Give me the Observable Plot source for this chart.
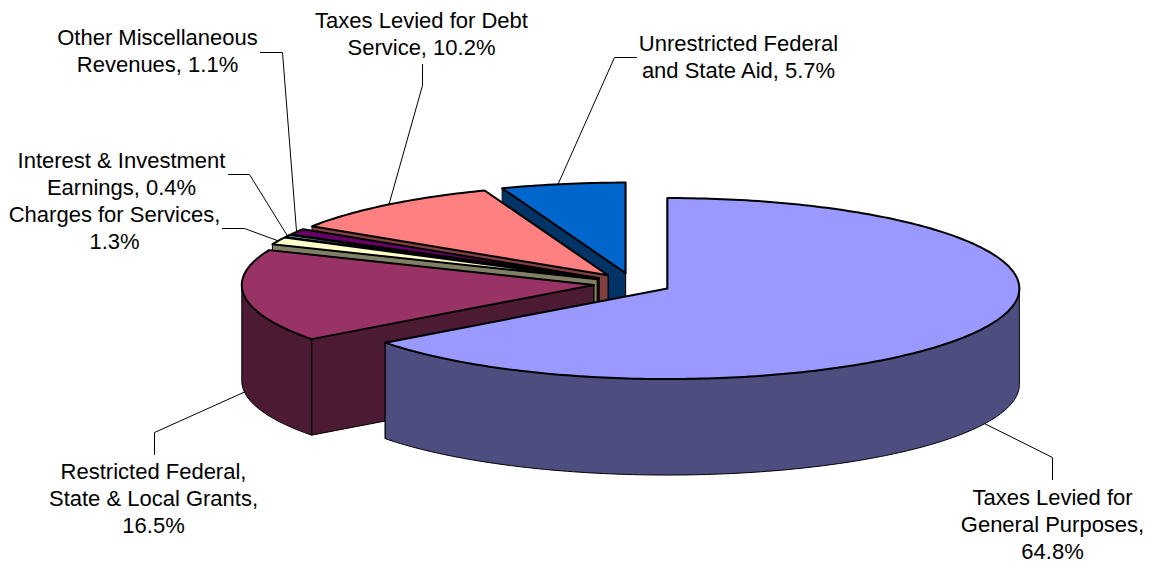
<!DOCTYPE html>
<html>
<head>
<meta charset="utf-8">
<script src="https://cdn.jsdelivr.net/npm/d3@7"></script>
<script src="https://cdn.jsdelivr.net/npm/@observablehq/plot@0.6"></script>
<style>
  html, body { margin: 0; padding: 0; background: #fff; }
  svg { display: block; }
</style>
</head>
<body>
<div id="chart"></div>
<script>
// Revenue sources, clockwise from twelve o'clock.
const categories = [
  "Taxes Levied for\nGeneral Purposes,\n64.8%",
  "Restricted Federal,\nState & Local Grants,\n16.5%",
  "Charges for Services,\n1.3%",
  "Interest & Investment\nEarnings, 0.4%",
  "Other Miscellaneous\nRevenues, 1.1%",
  "Taxes Levied for Debt\nService, 10.2%",
  "Unrestricted Federal\nand State Aid, 5.7%"
];
const shares = [64.8, 16.5, 1.3, 0.4, 1.1, 10.2, 5.7];
const topColors = ["#9999FF", "#993366", "#FFFFCC", "#CCFFFF", "#660066", "#FF8080", "#0066CC"];
const wallColors = ["#4D4D80", "#4D1A33", "#808066", "#668080", "#330033", "#804040", "#003366"];

// Label placement: text centre, then the elbow and end of each leader line.
const labelX = [1052, 153, 114, 121, 157, 421, 738];
const labelY = [522.5, 496.5, 226.3, 172.5, 49.5, 32, 55];
const elbowX = [1052, 154, 244, 249, 282, 422, 614];
const elbowY = [457, 432, 228, 174, 52, 85, 57];
const leaderEndX = [1052, 154, 222, 228, 260, 422, 636];
const leaderEndY = [479, 454, 228, 174, 52, 64, 57];
// Small angular shift of each leader's anchor along the rim, in degrees.
const anchorShift = [-1, 0, 0, 0, 0, 0.4, -0.8];

// Pie projection: an ellipse seen from above, extruded downward.
const centerX = 632, centerY = 283.2;
const radiusX = 352, radiusY = 90.5;
const depth = 96, explodeX = 39, explodeY = 10.8;
const rad = (d) => d * Math.PI / 180;

let running = 0;
const slices = shares.map((share, i) => {
  const start = running * 3.6;
  running += share;
  const end = running * 3.6;
  const mid = rad((start + end) / 2);
  const apexX = centerX + explodeX * Math.sin(mid);
  const apexY = centerY - explodeY * Math.cos(mid);
  const rim = (deg, drop = 0) => ({
    x: apexX + radiusX * Math.sin(rad(deg)),
    y: apexY - radiusY * Math.cos(rad(deg)) + drop
  });
  const arc = (a, b, drop = 0) => {
    const n = Math.max(2, Math.ceil(Math.abs(b - a)));
    return d3.range(n + 1).map((k) => rim(a + (b - a) * k / n, drop));
  };
  return {i, start, end, midDeg: (start + end) / 2, apexX, apexY, rim, arc};
});

const closed = (pts) => [...pts, pts[0]];
const face = (pts, fill, strokeWidth) =>
  Plot.line(closed(pts), {x: "x", y: "y", fill, stroke: "#000", strokeWidth, curve: "linear"});

// Paint from the back slice to the front one; walls first, the lid on top.
const pieMarks = [...slices].reverse().flatMap((s) => {
  const apex = {x: s.apexX, y: s.apexY};
  const apexLow = {x: s.apexX, y: s.apexY + depth};
  const wall = wallColors[s.i];
  const marks = [
    face([apex, s.rim(s.end), s.rim(s.end, depth), apexLow], wall, 1),
    face([apex, s.rim(s.start), s.rim(s.start, depth), apexLow], wall, 1)
  ];
  const a = Math.max(s.start, 90), b = Math.min(s.end, 270);
  if (b > a) {
    marks.push(face([...s.arc(a, b), ...s.arc(b, a, depth)], wall, 1));
  }
  marks.push(face([apex, ...s.arc(s.start, s.end)], topColors[s.i], 2));
  return marks;
});

// Leaders start on the slice's rim at its middle angle; front slices use the lower rim.
const leaders = slices.flatMap((s) => {
  const drop = s.midDeg > 90 && s.midDeg < 270 ? depth : 0;
  return [
    {id: s.i, ...s.rim(s.midDeg + anchorShift[s.i], drop)},
    {id: s.i, x: elbowX[s.i], y: elbowY[s.i]},
    {id: s.i, x: leaderEndX[s.i], y: leaderEndY[s.i]}
  ];
});

const labels = categories.map((text, i) => ({text, x: labelX[i], y: labelY[i]}));

const chart = Plot.plot({
  width: 1150,
  height: 564,
  margin: 0,
  x: {domain: [0, 1150], range: [0, 1150], axis: null},
  y: {domain: [0, 564], range: [0, 564], axis: null},
  style: {background: "#fff"},
  marks: [
    Plot.line(leaders, {x: "x", y: "y", z: "id", stroke: "#000", strokeWidth: 1, curve: "linear"}),
    ...pieMarks,
    Plot.text(labels, {
      x: "x", y: "y", text: "text",
      fontFamily: "Liberation Sans, Arial, sans-serif",
      fontSize: 22, lineHeight: 1.227,
      fill: "#000", textAnchor: "middle"
    })
  ]
});
document.getElementById("chart").append(chart);
</script>
</body>
</html>
